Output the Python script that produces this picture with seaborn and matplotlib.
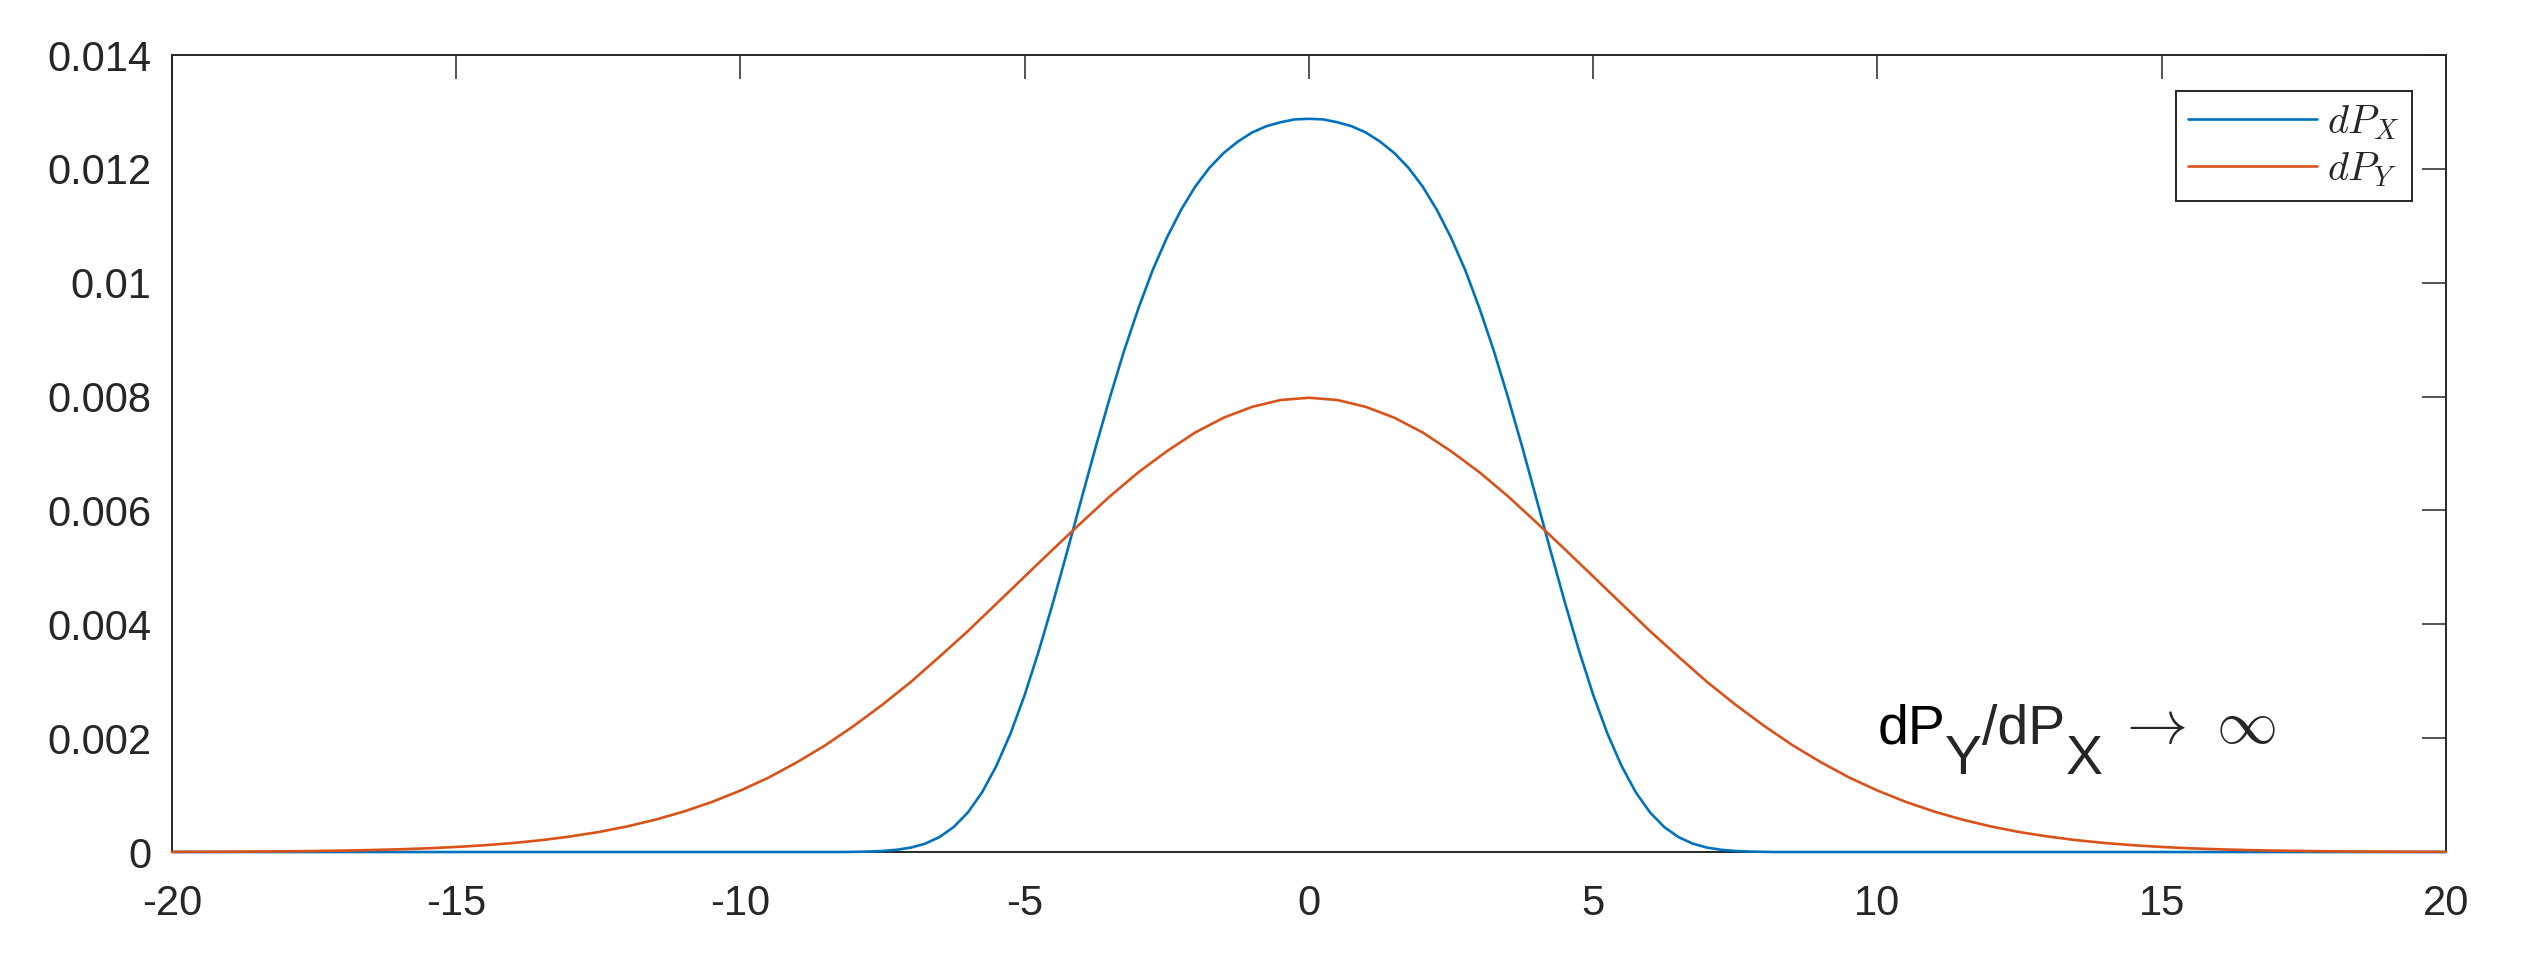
import numpy as np
import pandas as pd
import seaborn as sns
import matplotlib.pyplot as plt

sns.set_theme(style='white')
plt.rcParams['font.family'] = ['Liberation Sans', 'DejaVu Sans']
plt.rcParams['mathtext.fontset'] = 'cm'

# values, in units of 1e-3
blue_x = np.arange(-20, 20.01, 0.25)
dpx = ([0.0] * 48 +
       [0.003, 0.008, 0.018, 0.039, 0.078, 0.147, 0.262, 0.438, 0.694, 1.047,
        1.51, 2.08, 2.76, 3.54, 4.39, 5.29, 6.21, 7.12, 7.99, 8.81, 9.55,
        10.22, 10.79, 11.28, 11.69, 12.02, 12.28, 12.48, 12.64, 12.75, 12.82,
        12.87, 12.88,
        12.87, 12.82, 12.75, 12.64, 12.48, 12.28, 12.02, 11.69, 11.28, 10.79,
        10.22, 9.55, 8.81, 7.99, 7.12, 6.21, 5.29, 4.39, 3.54, 2.76, 2.08,
        1.51, 1.047, 0.694, 0.438, 0.262, 0.147, 0.078, 0.039, 0.018, 0.008,
        0.003] +
       [0.0] * 48)

red_x = np.arange(-20, 20.01, 0.5)
dpy = [0.0027, 0.0040, 0.0058, 0.0085, 0.0122, 0.0175, 0.0247, 0.0345, 0.0477,
       0.0653, 0.0886, 0.119, 0.158, 0.208, 0.272, 0.350, 0.448, 0.567, 0.710,
       0.880, 1.08, 1.31, 1.58, 1.88, 2.22, 2.59, 2.99, 3.43, 3.88, 4.36, 4.84,
       5.32, 5.79, 6.25, 6.67, 7.04, 7.37, 7.63, 7.82, 7.94, 7.98,
       7.94, 7.82, 7.63, 7.37, 7.04, 6.67, 6.25, 5.79, 5.32, 4.84, 4.36, 3.88,
       3.43, 2.99, 2.59, 2.22, 1.88, 1.58, 1.31, 1.08, 0.880, 0.710, 0.567,
       0.448, 0.350, 0.272, 0.208, 0.158, 0.119, 0.0886, 0.0653, 0.0477,
       0.0345, 0.0247, 0.0175, 0.0122, 0.0085, 0.0058, 0.0040, 0.0027]

xticks = [-20, -15, -10, -5, 0, 5, 10, 15, 20]
xticklabels = ['-20', '-15', '-10', '-5', '0', '5', '10', '15', '20']
yticks = [0, 0.002, 0.004, 0.006, 0.008, 0.010, 0.012, 0.014]
yticklabels = ['0', '0.002', '0.004', '0.006', '0.008', '0.01', '0.012', '0.014']

px = pd.DataFrame({'x': blue_x, 'y': np.array(dpx) * 1e-3})
py = pd.DataFrame({'x': red_x, 'y': np.array(dpy) * 1e-3})

fig = plt.figure(figsize=(25.25, 9.66), dpi=100)
ax = fig.add_axes([0.0681, 0.118, 0.9006, 0.825])

sns.lineplot(data=px, x='x', y='y', color='#0072BD', lw=1.9,
             label='$dP_X$', ax=ax, clip_on=False, zorder=3)
sns.lineplot(data=py, x='x', y='y', color='#D95319', lw=1.9,
             label='$dP_Y$', ax=ax, clip_on=False, zorder=3)

ax.set_xlim(-20, 20)
ax.set_ylim(0, 0.014)
ax.set_xticks(xticks, xticklabels)
ax.set_yticks(yticks, yticklabels)
ax.set_xlabel('')
ax.set_ylabel('')
ax.tick_params(direction='in', top=True, right=True, length=17, width=1.1,
               colors='#262626', labelsize=30)
ax.tick_params(axis='x', pad=23)
ax.tick_params(axis='y', pad=15)
for s in ax.spines.values():
    s.set_color('#262626')
    s.set_linewidth(1.4)

leg = ax.legend(loc='upper right', bbox_to_anchor=(0.985, 0.955),
                borderaxespad=0, fontsize=29, frameon=True, fancybox=False,
                edgecolor='#262626', handlelength=3.2, handletextpad=0.25,
                labelspacing=0.2, borderpad=0.3, framealpha=1)
leg.get_frame().set_linewidth(1.4)
for line in leg.get_lines():
    line.set_linewidth(1.9)

# dP_Y/dP_X -> inf, subscripts same size but dropped
t1 = ax.text(10.0, 0.0019, 'dP', fontsize=40, va='baseline', color='black')
t2 = ax.annotate('Y', xy=(1, 0), xycoords=t1, xytext=(0, -22),
                 textcoords='offset points', fontsize=40, va='bottom')
t3 = ax.annotate('/dP', xy=(1, 0), xycoords=t2, xytext=(0, 22),
                 textcoords='offset points', fontsize=40, va='bottom')
t4 = ax.annotate('X', xy=(1, 0), xycoords=t3, xytext=(0, -22),
                 textcoords='offset points', fontsize=40, va='bottom')
ax.annotate(r'$\rightarrow\ \infty$', xy=(1, 0), xycoords=t4, xytext=(10, 22),
            textcoords='offset points', fontsize=44, va='bottom')

fig.savefig('out.png', dpi=100)
